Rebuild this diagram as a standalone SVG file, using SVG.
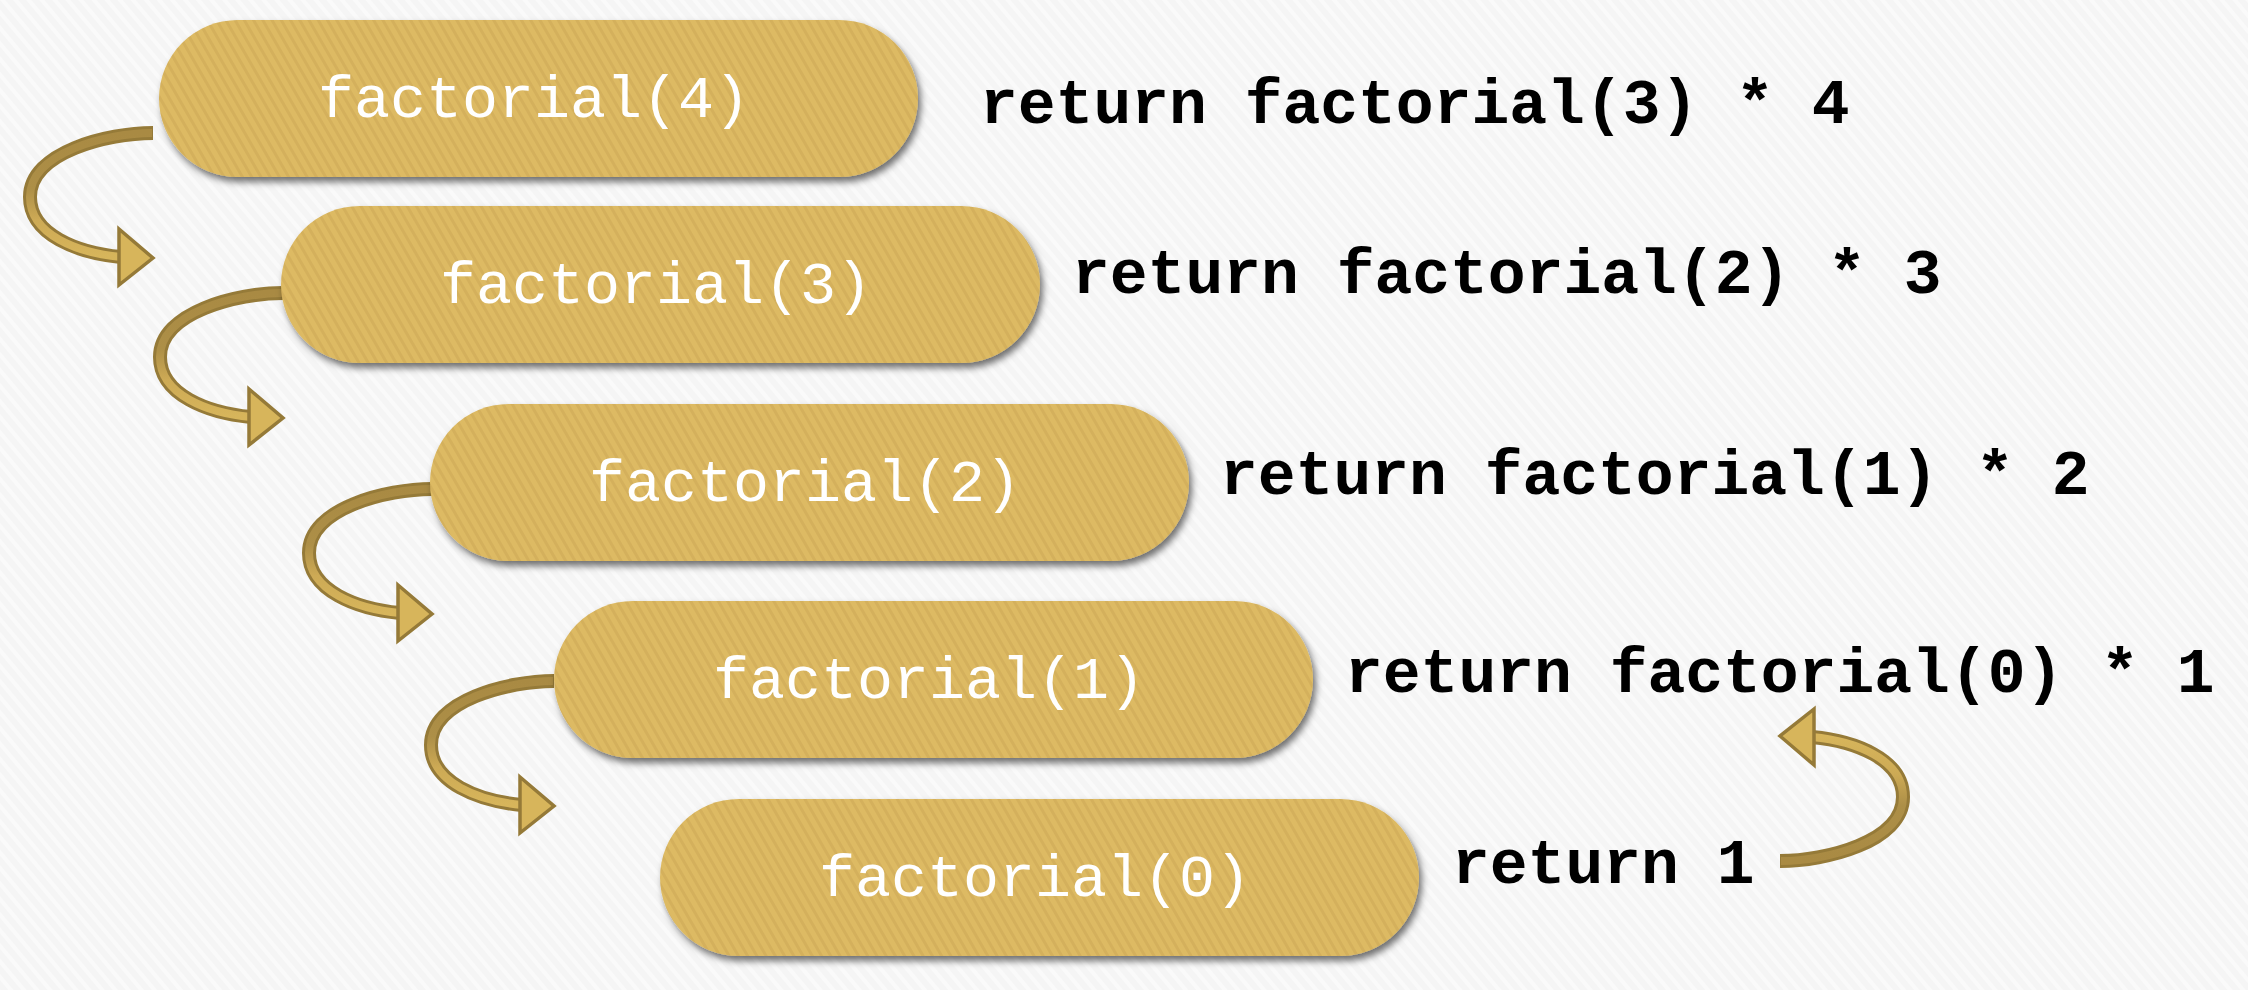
<svg xmlns="http://www.w3.org/2000/svg" width="2248" height="990" viewBox="0 0 2248 990">
  <style>
    .node-shape { fill: url(#goldStripe); filter: url(#shadow); }
    .node-text { font-family: "Liberation Mono", "Courier New", monospace; font-size: 60px; fill: #ffffff; text-anchor: middle; }
    .ret { font-family: "Liberation Mono", "Courier New", monospace; font-size: 63px; font-weight: bold; fill: #000000; }
    .arrow-edge { fill: none; stroke: #957A38; stroke-width: 14; }
    .arrow-body { fill: none; stroke: url(#arrowGrad); stroke-width: 8; }
    .arrow-head { fill: #D7B55B; stroke: #957A38; stroke-width: 3.5; stroke-linejoin: miter; }
  </style>
  <defs>
    <pattern id="bgStripe" width="10" height="10" patternUnits="userSpaceOnUse" patternTransform="rotate(-40)">
      <rect width="10" height="10" fill="#F5F5F5"/>
      <rect width="4" height="10" fill="#FAFAFA"/>
    </pattern>
    <pattern id="goldStripe" width="8" height="8" patternUnits="userSpaceOnUse" patternTransform="rotate(-30)">
      <rect width="8" height="8" fill="#DDBA64"/>
      <rect width="3" height="8" fill="#D4B05B"/>
    </pattern>
    <linearGradient id="arrowGrad" x1="0" y1="0" x2="0" y2="1">
      <stop offset="0" stop-color="#A98A43"/>
      <stop offset="0.45" stop-color="#AD8F47"/>
      <stop offset="0.7" stop-color="#CDAA55"/>
      <stop offset="1" stop-color="#D7B55B"/>
    </linearGradient>
    <filter id="shadow" x="-5%" y="-10%" width="112%" height="130%">
      <feDropShadow dx="3" dy="5" stdDeviation="3.5" flood-color="#000000" flood-opacity="0.55"/>
    </filter>
    <g id="curveArrow">
      <path class="arrow-edge" d="M 0 6 C -45 6, -123 25, -123 70 C -123 108, -75 126, -32 130"/>
      <path class="arrow-body" d="M -1 6 C -45 6, -123 25, -123 70 C -123 108, -75 126, -32 130"/>
      <polygon class="arrow-head" points="-34,102 0,131 -34,158"/>
    </g>
  </defs>

  <rect x="0" y="0" width="2248" height="990" fill="url(#bgStripe)"/>

  <g id="connectors">
    <use href="#curveArrow" transform="translate(153,127)"/>
    <use href="#curveArrow" transform="translate(283,287)"/>
    <use href="#curveArrow" transform="translate(432,483)"/>
    <use href="#curveArrow" transform="translate(554,675)"/>
    <use href="#curveArrow" transform="translate(1780,867) rotate(180)"/>
  </g>

  <g id="node-f4">
    <rect class="node-shape" x="159" y="20" width="759" height="157" rx="78.5"/>
    <text class="node-text" x="534" y="117">factorial(4)</text>
  </g>
  <g id="node-f3">
    <rect class="node-shape" x="281" y="206" width="759" height="157" rx="78.5"/>
    <text class="node-text" x="656" y="303">factorial(3)</text>
  </g>
  <g id="node-f2">
    <rect class="node-shape" x="430" y="404" width="759" height="157" rx="78.5"/>
    <text class="node-text" x="805" y="501">factorial(2)</text>
  </g>
  <g id="node-f1">
    <rect class="node-shape" x="554" y="601" width="759" height="157" rx="78.5"/>
    <text class="node-text" x="929" y="698">factorial(1)</text>
  </g>
  <g id="node-f0">
    <rect class="node-shape" x="660" y="799" width="759" height="157" rx="78.5"/>
    <text class="node-text" x="1035" y="896">factorial(0)</text>
  </g>

  <g id="returns">
    <text class="ret" x="980" y="123">return factorial(3) * 4</text>
    <text class="ret" x="1072" y="293">return factorial(2) * 3</text>
    <text class="ret" x="1220" y="494">return factorial(1) * 2</text>
    <text class="ret" x="1345" y="692">return factorial(0) * 1</text>
    <text class="ret" x="1452" y="883">return 1</text>
  </g>
</svg>
